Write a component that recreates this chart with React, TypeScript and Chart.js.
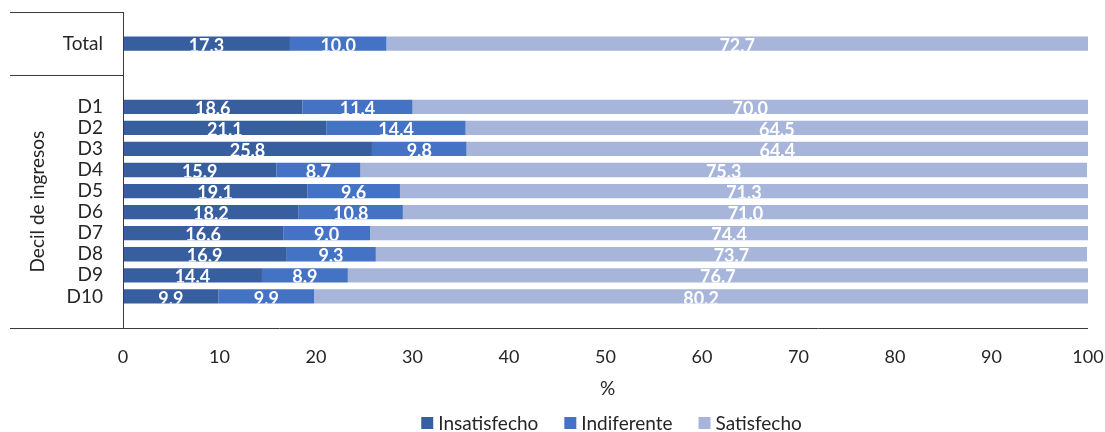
import React, { useEffect, useRef } from 'react';
import { Chart, registerables } from 'chart.js';

Chart.register(...registerables);

const categories = ['', 'Total', '', '', 'D1', 'D2', 'D3', 'D4', 'D5', 'D6', 'D7', 'D8', 'D9', 'D10', ''];
const insatisfecho = [null, 17.3, null, null, 18.6, 21.1, 25.8, 15.9, 19.1, 18.2, 16.6, 16.9, 14.4, 9.9, null];
const indiferente = [null, 10.0, null, null, 11.4, 14.4, 9.8, 8.7, 9.6, 10.8, 9.0, 9.3, 8.9, 9.9, null];
const satisfecho = [null, 72.7, null, null, 70.0, 64.5, 64.4, 75.3, 71.3, 71.0, 74.4, 73.7, 76.7, 80.2, null];
const seriesNames = ['Insatisfecho', 'Indiferente', 'Satisfecho'];
const seriesColors = ['#375E9F', '#4472C4', '#A7B5DA'];
const xTicks = [0, 10, 20, 30, 40, 50, 60, 70, 80, 90, 100];
const groupLabel = 'Decil de ingresos';
const groupBreakAfter = 2; // index after which the second category group starts
const xTitle = '%';

const FONT = 'Lato, "Open Sans", sans-serif';
const TEXT = '#262626';
const LINE = '#3a3a3a';
const WORD_SIZE = 19;

const decorPlugin = {
  id: 'decor',
  afterDatasetsDraw(chart: any) {
    const ctx = chart.ctx;
    ctx.save();
    ctx.font = `bold 18px ${FONT}`;
    ctx.fillStyle = '#ffffff';
    ctx.textAlign = 'center';
    ctx.textBaseline = 'alphabetic';
    chart.data.datasets.forEach((ds: any, di: number) => {
      const meta = chart.getDatasetMeta(di);
      meta.data.forEach((el: any, i: number) => {
        const v = ds.data[i];
        if (v === null || v === undefined) return;
        const p = el.getProps(['x', 'y', 'base', 'height'], true);
        const left = Math.min(p.x, p.base);
        const right = Math.max(p.x, p.base);
        const top = p.y - p.height / 2;
        const bottom = p.y + p.height / 2;
        ctx.save();
        ctx.beginPath();
        ctx.rect(left, top, right - left, bottom - top);
        ctx.clip();
        ctx.fillText(v.toFixed(1), (left + right) / 2, bottom + 1);
        ctx.restore();
      });
    });
    ctx.restore();
  },
  afterDraw(chart: any) {
    const ctx = chart.ctx;
    const area = chart.chartArea;
    const y = chart.scales.y;
    const leftEdge = 10;
    const boundary = (y.getPixelForValue(groupBreakAfter) + y.getPixelForValue(groupBreakAfter + 1)) / 2;
    ctx.save();
    ctx.strokeStyle = LINE;
    ctx.lineWidth = 1;
    ctx.beginPath();
    ctx.moveTo(Math.round(area.left) + 0.5, area.top);
    ctx.lineTo(Math.round(area.left) + 0.5, area.bottom);
    ctx.moveTo(leftEdge, Math.round(area.top) + 0.5);
    ctx.lineTo(area.left, Math.round(area.top) + 0.5);
    ctx.moveTo(leftEdge, Math.round(boundary) + 0.5);
    ctx.lineTo(area.left, Math.round(boundary) + 0.5);
    ctx.moveTo(leftEdge, Math.round(area.bottom) + 0.5);
    ctx.lineTo(area.right, Math.round(area.bottom) + 0.5);
    ctx.stroke();

    ctx.fillStyle = TEXT;
    ctx.font = `${WORD_SIZE}px ${FONT}`;
    ctx.textAlign = 'center';
    ctx.textBaseline = 'middle';
    ctx.save();
    ctx.translate(38, (boundary + area.bottom) / 2);
    ctx.rotate(-Math.PI / 2);
    ctx.fillText(groupLabel, 0, 0);
    ctx.restore();

    const cx = (area.left + area.right) / 2;
    ctx.fillText(xTitle, cx + 2, 389);

    const box = 12;
    const gapBoxText = 5;
    const gapItems = 26;
    const widths = seriesNames.map((n) => ctx.measureText(n).width);
    const total = widths.reduce((a, w) => a + box + gapBoxText + w, 0) + gapItems * (seriesNames.length - 1);
    let x = cx + 6 - total / 2;
    const ly = 423;
    ctx.textAlign = 'left';
    seriesNames.forEach((n, i) => {
      ctx.fillStyle = seriesColors[i];
      ctx.fillRect(x, ly - box / 2, box, box);
      x += box + gapBoxText;
      ctx.fillStyle = TEXT;
      ctx.fillText(n, x, ly + 1);
      x += widths[i] + gapItems;
    });
    ctx.restore();
  },
};

export default function App() {
  const ref = useRef<HTMLCanvasElement | null>(null);
  useEffect(() => {
    document.body.style.margin = '0';
    if (!ref.current) return;
    const seriesData = [insatisfecho, indiferente, satisfecho];
    const chart = new Chart(ref.current, {
      type: 'bar',
      data: {
        labels: categories,
        datasets: seriesNames.map((name, i) => ({
          label: name,
          data: seriesData[i],
          backgroundColor: seriesColors[i],
          borderWidth: 0,
          categoryPercentage: 1,
          barPercentage: 0.68,
        })),
      },
      options: {
        indexAxis: 'y',
        responsive: false,
        animation: false,
        devicePixelRatio: 1,
        layout: { padding: { left: 0, right: 17, top: 12, bottom: 0 } },
        plugins: {
          legend: { display: false },
          tooltip: { enabled: false },
        },
        scales: {
          x: {
            stacked: true,
            min: 0,
            max: 100,
            grid: { display: false, drawTicks: false },
            border: { display: false },
            afterBuildTicks: (scale: any) => {
              scale.ticks = xTicks.map((v) => ({ value: v }));
            },
            afterFit: (scale: any) => {
              scale.height = 104;
              scale.paddingLeft = 0;
              scale.paddingRight = 0;
            },
            ticks: {
              padding: 18,
              color: TEXT,
              font: { family: FONT, size: 18 },
              maxRotation: 0,
            },
          },
          y: {
            stacked: true,
            grid: { display: false, drawTicks: false },
            border: { display: false },
            afterFit: (scale: any) => {
              scale.width = 123;
              scale.paddingTop = 0;
              scale.paddingBottom = 0;
            },
            ticks: {
              padding: 20,
              color: TEXT,
              autoSkip: false,
              font: { family: FONT, size: WORD_SIZE },
            },
          },
        },
      },
      plugins: [decorPlugin],
    });
    return () => chart.destroy();
  }, []);
  return (
    <div style={{ width: 1105, height: 432 }}>
      <canvas ref={ref} width={1105} height={432} />
    </div>
  );
}
